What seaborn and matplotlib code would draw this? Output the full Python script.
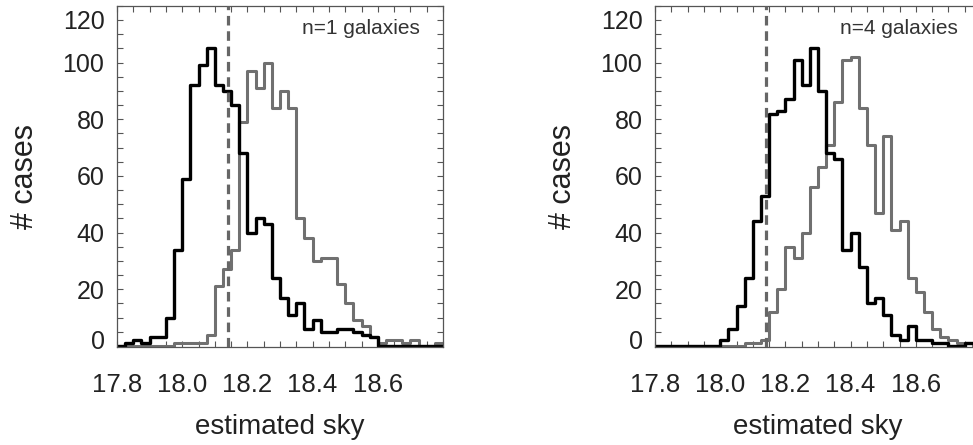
import numpy as np
import pandas as pd
import matplotlib
matplotlib.use("Agg")
import matplotlib.pyplot as plt
from matplotlib.ticker import MultipleLocator
from matplotlib.transforms import ScaledTranslation
import seaborn as sns

# Histogram binning of the estimated sky level
SKY_START = 17.8
BIN_WIDTH = 0.025
N_BINS = 40

# Counts per bin, n=1 galaxies
n1_black = [0, 1, 2, 1, 3, 3, 10, 34, 59, 92, 99, 105, 92, 90, 85, 68, 40, 45, 43, 24,
            17, 11, 15, 6, 9, 5, 5, 6, 6, 5, 4, 3, 0, 0, 0, 0, 0, 0, 0, 0]
n1_gray = [0, 0, 0, 0, 0, 0, 0, 1, 1, 1, 1, 4, 21, 27, 34, 79, 97, 91, 100, 84,
           90, 84, 45, 38, 30, 31, 31, 22, 15, 9, 7, 3, 1, 2, 2, 1, 2, 0, 0, 1]

# Counts per bin, n=4 galaxies
n4_black = [0, 0, 0, 0, 0, 0, 0, 0, 2, 6, 14, 24, 44, 53, 82, 83, 87, 101, 92, 105,
            90, 68, 66, 34, 40, 28, 15, 17, 11, 4, 2, 7, 2, 2, 1, 1, 0, 0, 1, 1]
n4_gray = [0, 0, 0, 0, 0, 0, 0, 0, 0, 0, 0, 1, 1, 2, 12, 20, 35, 31, 40, 56,
           63, 71, 86, 101, 102, 84, 71, 47, 74, 41, 44, 24, 19, 12, 6, 3, 2, 1, 1, 0]

true_sky = 18.14
panel_labels = ["n=1 galaxies", "n=4 galaxies"]
xtick_values = [17.8, 18.0, 18.2, 18.4, 18.6]
xtick_labels = ["17.8", "18.0", "18.2", "18.4", "18.6"]
ytick_values = [0, 20, 40, 60, 80, 100, 120]

edges = SKY_START + BIN_WIDTH * np.arange(N_BINS + 1)
centers = 0.5 * (edges[:-1] + edges[1:])
bin_edges = [float(e) for e in edges]

sns.set_style("ticks")
plt.rcParams["font.family"] = ["Liberation Sans", "DejaVu Sans"]

SPINE = "#555555"
GRAY = "#707070"
TEXT = "#222222"

fig = plt.figure(figsize=(9.73, 4.45), dpi=100)
W, H = 973.0, 445.0
ax_left = fig.add_axes([117 / W, 1 - 347 / H, 326 / W, 341 / H])
ax_right = fig.add_axes([655 / W, 1 - 347 / H, 326 / W, 341 / H])

for ax, black, gray, label in [(ax_left, n1_black, n1_gray, panel_labels[0]),
                               (ax_right, n4_black, n4_gray, panel_labels[1])]:
    df = pd.DataFrame({"sky": centers, "black": black, "gray": gray})
    sns.histplot(data=df, x="sky", weights="gray", bins=bin_edges, element="step", fill=False,
                 color=GRAY, linewidth=2.2, ax=ax)
    sns.histplot(data=df, x="sky", weights="black", bins=bin_edges, element="step", fill=False,
                 color="black", linewidth=2.4, ax=ax)
    ax.axvline(true_sky, color="#666666", linewidth=2.3, linestyle=(0, (3.0, 1.8)), zorder=5)

    ax.set_xlim(edges[0], edges[-1])
    ax.set_ylim(-0.4, 120)

    ax.set_xticks(xtick_values)
    ax.set_xticklabels(xtick_labels)
    ax.xaxis.set_minor_locator(MultipleLocator(0.05))
    ax.set_yticks(ytick_values)
    ax.yaxis.set_minor_locator(MultipleLocator(5))

    ax.tick_params(which="both", direction="in", top=True, right=True,
                   length=4, width=0.8, color=SPINE)
    ax.tick_params(axis="x", which="major", labelsize=18.5, pad=19, labelcolor=TEXT)
    ax.tick_params(axis="y", which="major", labelsize=18, pad=9, labelcolor=TEXT)
    for s in ax.spines.values():
        s.set_color(SPINE)
        s.set_linewidth(0.9)

    ax.set_xlabel("estimated sky", fontsize=20, color=TEXT, va="center")
    ax.xaxis.set_label_coords(0.5, -0.2346)
    ax.set_ylabel("# cases", fontsize=22, color=TEXT, va="center")
    ax.yaxis.set_label_coords(-0.282, 0.5)

    ax.text(0.93, 0.935, label, transform=ax.transAxes, ha="right", va="center",
            fontsize=15, color="#333333")

    # nudge the end labels of the count axis inward
    ylabels = ax.get_yticklabels()
    ylabels[-1].set_transform(ylabels[-1].get_transform()
                              + ScaledTranslation(0, -13 / 100, fig.dpi_scale_trans))
    ylabels[0].set_transform(ylabels[0].get_transform()
                             + ScaledTranslation(0, 6 / 100, fig.dpi_scale_trans))

fig.savefig("out.png", dpi=100)
